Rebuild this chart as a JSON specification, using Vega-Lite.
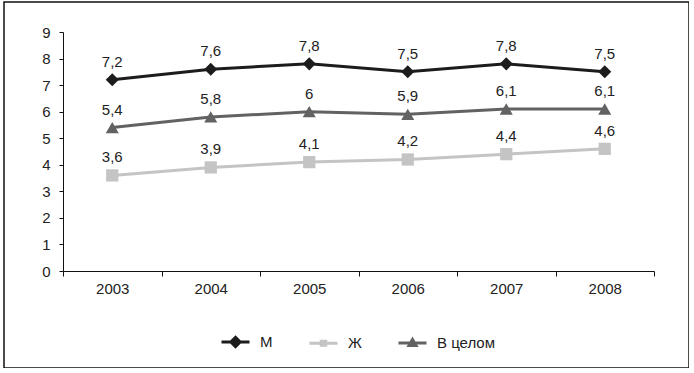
{
  "$schema": "https://vega.github.io/schema/vega-lite/v6.json",
  "width": 685,
  "height": 366,
  "padding": {"left": 4, "top": 2, "right": 0, "bottom": 0},
  "autosize": {"type": "none"},
  "background": "white",
  "config": {
    "view": {"stroke": "#111", "strokeWidth": 1.5},
    "font": "Liberation Sans",
    "locale": {"number": {"decimal": ",", "thousands": " ", "grouping": [3], "currency": ["", ""]}},
    "axis": {"labelFont": "Liberation Sans", "labelFontSize": 15, "labelColor": "#222", "domainColor": "#111", "tickColor": "#111", "grid": false, "title": null}
  },
  "data": {
    "values": [
      {"year": "2003", "series": "М", "value": 7.2},
      {"year": "2004", "series": "М", "value": 7.6},
      {"year": "2005", "series": "М", "value": 7.8},
      {"year": "2006", "series": "М", "value": 7.5},
      {"year": "2007", "series": "М", "value": 7.8},
      {"year": "2008", "series": "М", "value": 7.5},
      {"year": "2003", "series": "Ж", "value": 3.6},
      {"year": "2004", "series": "Ж", "value": 3.9},
      {"year": "2005", "series": "Ж", "value": 4.1},
      {"year": "2006", "series": "Ж", "value": 4.2},
      {"year": "2007", "series": "Ж", "value": 4.4},
      {"year": "2008", "series": "Ж", "value": 4.6},
      {"year": "2003", "series": "В целом", "value": 5.4},
      {"year": "2004", "series": "В целом", "value": 5.8},
      {"year": "2005", "series": "В целом", "value": 6.0},
      {"year": "2006", "series": "В целом", "value": 5.9},
      {"year": "2007", "series": "В целом", "value": 6.1},
      {"year": "2008", "series": "В целом", "value": 6.1}
    ]
  },
  "encoding": {
    "x": {
      "field": "year", "type": "ordinal",
      "scale": {"range": [59, 650], "paddingInner": 0, "paddingOuter": 0},
      "axis": {"labelAngle": 0, "tickBand": "extent", "tickSize": 5, "labelPadding": 5, "offset": -97, "domainWidth": 1}
    },
    "y": {
      "field": "value", "type": "quantitative",
      "scale": {"domain": [0, 9], "range": [269, 30], "nice": false},
      "axis": {"values": [0, 1, 2, 3, 4, 5, 6, 7, 8, 9], "tickSize": 4, "labelPadding": 9, "offset": -59, "domainWidth": 1}
    }
  },
  "layer": [
    {
      "mark": {"type": "line", "strokeWidth": 3},
      "encoding": {
        "color": {
          "field": "series", "type": "nominal",
          "scale": {"domain": ["М", "Ж", "В целом"], "range": ["#1c1c1c", "#c4c4c4", "#626262"]},
          "legend": {
            "orient": "none", "legendX": 216, "legendY": 324, "direction": "horizontal",
            "title": null, "labelFontSize": 15, "labelFont": "Liberation Sans", "labelColor": "#222",
            "labelOffset": 9, "columnPadding": 30, "symbolSize": 784,
            "encode": {
              "symbols": {
                "update": {
                  "shape": {"signal": "datum.index === 0 ? 'M-1,0H1M0,-0.33L0.33,0L0,0.33L-0.33,0Z' : datum.index === 1 ? 'M-1,0H1M-0.16,-0.14H0.16V0.14H-0.16Z' : 'M-1,0H1M0,-0.25L0.25,0.18H-0.25Z'"},
                  "fill": {"signal": "scale('color', datum.value)"},
                  "stroke": {"signal": "scale('color', datum.value)"},
                  "strokeWidth": {"value": 3},
                  "size": {"value": 784}
                }
              }
            }
          }
        }
      }
    },
    {
      "transform": [{"filter": "datum.series === 'М'"}],
      "mark": {"type": "point", "filled": true, "opacity": 1, "size": 170, "shape": "diamond", "color": "#1c1c1c"}
    },
    {
      "transform": [{"filter": "datum.series === 'Ж'"}],
      "mark": {"type": "point", "filled": true, "opacity": 1, "size": 150, "shape": "square", "color": "#c4c4c4"}
    },
    {
      "transform": [{"filter": "datum.series === 'В целом'"}],
      "mark": {"type": "point", "filled": true, "opacity": 1, "size": 170, "shape": "triangle-up", "color": "#626262"}
    },
    {
      "mark": {"type": "text", "dy": -13, "baseline": "alphabetic", "fontSize": 15, "font": "Liberation Sans", "color": "#222"},
      "encoding": {
        "text": {"field": "value", "type": "quantitative", "format": ".1~f"}
      }
    }
  ]
}
